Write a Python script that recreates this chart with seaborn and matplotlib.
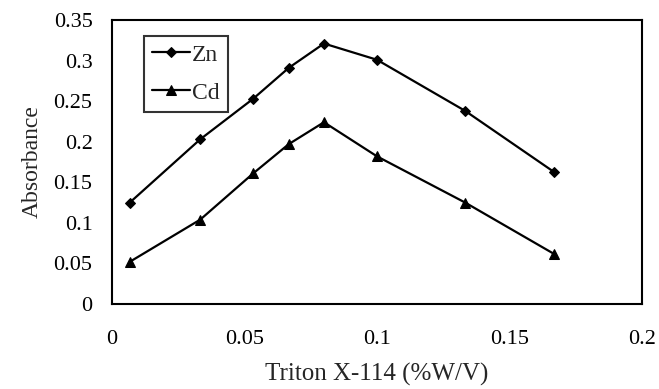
import matplotlib
matplotlib.use("Agg")
import matplotlib.pyplot as plt
import seaborn as sns
import pandas as pd
from matplotlib.ticker import FuncFormatter, MultipleLocator

triton = [0.0067, 0.0333, 0.0533, 0.0667, 0.08, 0.1, 0.1333, 0.1667]
zn = [0.125, 0.203, 0.253, 0.291, 0.321, 0.301, 0.238, 0.163]
cd = [0.052, 0.104, 0.161, 0.197, 0.224, 0.182, 0.125, 0.062]
series_names = ["Zn", "Cd"]

df_zn = pd.DataFrame({"x": triton, "y": zn})
df_cd = pd.DataFrame({"x": triton, "y": cd})

sns.set_style("white")
plt.rcParams["font.family"] = ["Liberation Serif", "DejaVu Serif"]

fig, ax = plt.subplots(figsize=(6.59, 3.89), dpi=100)
fig.subplots_adjust(left=0.170, right=0.974, bottom=0.2185, top=0.9486)

sns.lineplot(data=df_zn, x="x", y="y", color="black", marker="D",
             markersize=5.5, linewidth=1.6, markeredgecolor="black",
             label=series_names[0], ax=ax)
sns.lineplot(data=df_cd, x="x", y="y", color="black", marker="^",
             markersize=7.5, linewidth=1.6, markeredgecolor="black",
             label=series_names[1], ax=ax)

ax.set_xlim(0, 0.2)
ax.set_ylim(0, 0.35)
ax.xaxis.set_major_locator(MultipleLocator(0.05))
ax.yaxis.set_major_locator(MultipleLocator(0.05))
fmt = FuncFormatter(lambda v, p: "%g" % round(v, 4))
ax.xaxis.set_major_formatter(fmt)
ax.yaxis.set_major_formatter(fmt)
ax.tick_params(direction="in", length=5, width=1, colors="black",
               labelsize=16)
ax.tick_params(axis="y", pad=14)
ax.tick_params(axis="x", pad=19)
for s in ax.spines.values():
    s.set_visible(True)
    s.set_color("black")
    s.set_linewidth(1.5)

ax.set_xlabel("Triton X-114 (%W/V)", fontsize=18, labelpad=10)
ax.set_ylabel("Absorbance", fontsize=17, labelpad=8)

leg = ax.legend(loc="upper left", bbox_to_anchor=(0.060, 0.944), fontsize=17,
                frameon=True, fancybox=False, edgecolor="black",
                handlelength=1.6, handletextpad=0.1, borderpad=0.35,
                labelspacing=0.7, borderaxespad=0)
leg.get_frame().set_linewidth(1.5)

fig.savefig("out.png", dpi=100)
